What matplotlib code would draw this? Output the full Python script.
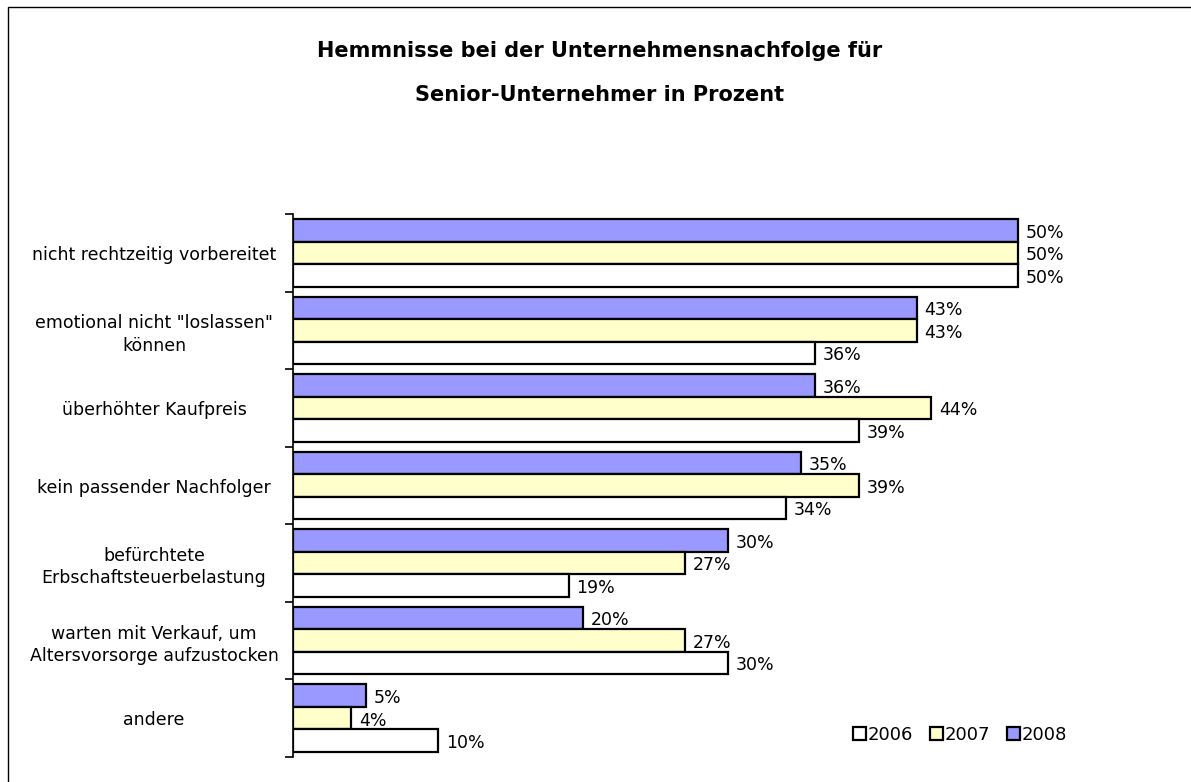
import matplotlib.pyplot as plt
import numpy as np
from matplotlib.patches import Rectangle

# data
categories = [
    'nicht rechtzeitig vorbereitet',
    'emotional nicht "loslassen"\nkönnen',
    'überhöhter Kaufpreis',
    'kein passender Nachfolger',
    'befürchtete\nErbschaftsteuerbelastung',
    'warten mit Verkauf, um\nAltersvorsorge aufzustocken',
    'andere',
]
years = ['2006', '2007', '2008']
values_2006 = [50, 36, 39, 34, 19, 30, 10]
values_2007 = [50, 43, 44, 39, 27, 27, 4]
values_2008 = [50, 43, 36, 35, 30, 20, 5]
colors = {'2006': '#FFFFFF', '2007': '#FFFFCC', '2008': '#9999FF'}

plt.rcParams['font.family'] = ['DejaVu Sans']

fig = plt.figure(figsize=(11.91, 7.82), dpi=100)
ax = fig.add_axes([293 / 1191, 1 - 757 / 782, (1163 - 293) / 1191, (757 - 214) / 782])

# outer chart frame (only top and left visible in the reference)
fig.patches.append(Rectangle((8 / 1191, -0.1), 1.2, 1.1 - 7 / 782, transform=fig.transFigure,
                             fill=False, edgecolor='black', linewidth=1.0))

n = len(categories)
y = np.arange(n)
h = 0.29
series = [('2008', values_2008, -h), ('2007', values_2007, 0), ('2006', values_2006, h)]
for year, vals, off in series:
    bars = ax.barh(y + off, vals, height=h, color=colors[year], edgecolor='black',
                   linewidth=1.6, label=year)
    for b, v in zip(bars, vals):
        ax.text(b.get_width() + 0.55, b.get_y() + b.get_height() / 2 + 0.03, f'{v}%',
                va='center', ha='left', fontsize=12.5)

ax.set_xlim(0, 60)
ax.set_ylim(n - 0.5, -0.5)
ax.set_xticks([])
ax.set_yticks(y)
ax.set_yticklabels(categories, fontsize=12.5, ha='center', linespacing=1.3)
ax.tick_params(axis='y', which='major', length=0, pad=100)
ax.set_yticks(np.arange(n + 1) - 0.5, minor=True)
ax.tick_params(axis='y', which='minor', length=6, width=1.2, direction='out')
for s in ['top', 'right', 'bottom']:
    ax.spines[s].set_visible(False)
ax.spines['left'].set_linewidth(1.2)

fig.text(600 / 1191, 1 - 51 / 782, 'Hemmnisse bei der Unternehmensnachfolge für',
         ha='center', va='center', fontsize=15, fontweight='bold')
fig.text(600 / 1191, 1 - 95 / 782, 'Senior-Unternehmer in Prozent',
         ha='center', va='center', fontsize=15, fontweight='bold')

handles, labels = ax.get_legend_handles_labels()
order = [labels.index(yr) for yr in years]
fig.legend([handles[i] for i in order], [labels[i] for i in order],
           loc='center', bbox_to_anchor=(960 / 1191, 1 - 735 / 782), ncol=3,
           frameon=False, fontsize=13, handlelength=0.75, handleheight=0.75,
           handletextpad=0.1, columnspacing=0.9)

fig.savefig('out.png', dpi=100)
